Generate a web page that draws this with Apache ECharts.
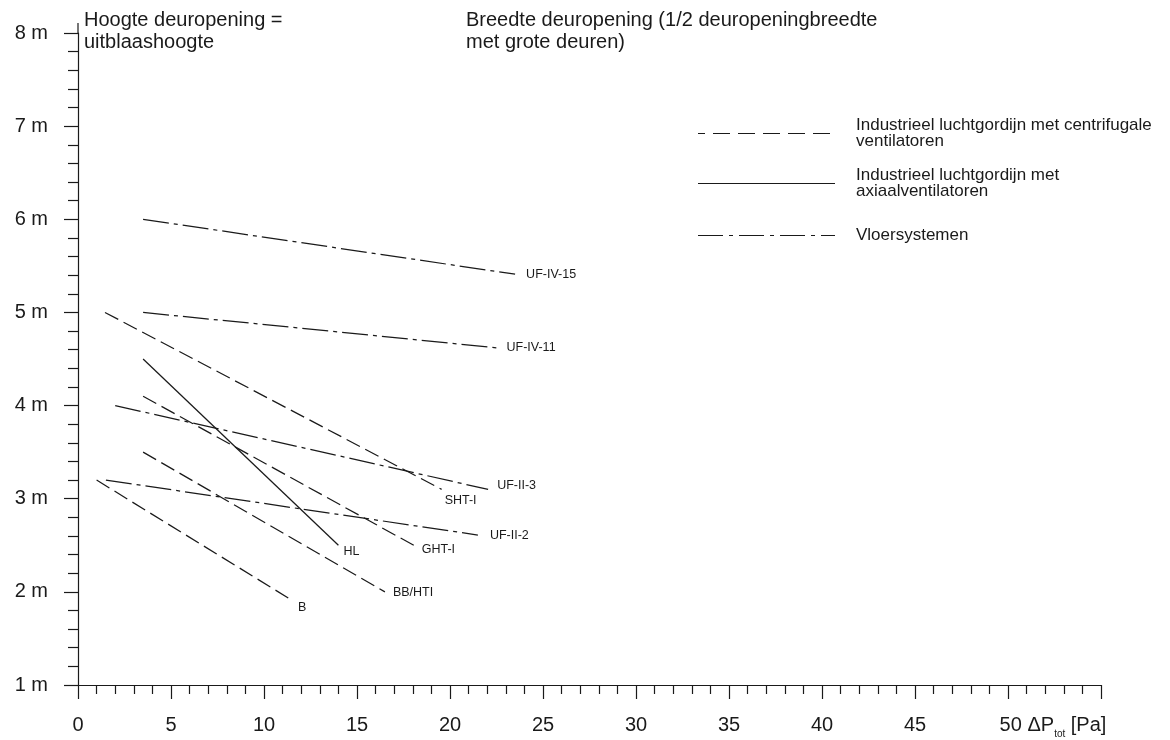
<!DOCTYPE html>
<html>
<head>
<meta charset="utf-8">
<script src="https://cdn.jsdelivr.net/npm/echarts@6/dist/echarts.min.js"></script>
<style>html,body{margin:0;padding:0;background:#fff}#c{width:1170px;height:740px}</style>
</head>
<body>
<div id="c"></div>
<script>
// ---- data (x = ΔPtot [Pa], y = height [m]) ----
const ufIV15 = [[3.5, 6.0], [23.5, 5.41]];
const ufIV11 = [[3.5, 5.0], [22.5, 4.62]];
const ufII3  = [[2.0, 4.0], [22.05, 3.1]];
const ufII2  = [[1.5, 3.2], [21.5, 2.61]];
const shtI   = [[1.45, 5.0], [19.55, 3.1]];
const hl     = [[3.5, 4.5], [14.0, 2.5]];
const ghtI   = [[3.5, 4.1], [18.05, 2.5]];
const bbHtI  = [[3.5, 3.5], [16.5, 2.0]];
const bLine  = [[1.0, 3.2], [11.5, 1.91]];

const seriesNames = ['UF-IV-15','UF-IV-11','UF-II-3','UF-II-2','SHT-I','HL','GHT-I','BB/HTI','B'];
const seriesData  = [ufIV15, ufIV11, ufII3, ufII2, shtI, hl, ghtI, bbHtI, bLine];
const seriesKind  = ['floor','floor','floor','floor','centri','axial','centri','centri','centri'];

const legendLabels = [
  'Industrieel luchtgordijn met centrifugale\nventilatoren',
  'Industrieel luchtgordijn met\naxiaalventilatoren',
  'Vloersystemen'
];
const titleLeft  = 'Hoogte deuropening =\nuitblaashoogte';
const titleRight = 'Breedte deuropening (1/2 deuropeningbreedte\nmet grote deuren)';
const xMin = 0, xMax = 55, xStep = 5;
const yMin = 1, yMax = 8, yStep = 1;

// ---- styles ----
const INK = '#1a1a1a';
const FONT = '"Liberation Sans", Arial, sans-serif';
const dashOf = { centri: [15, 6], axial: 'solid', floor: [26, 5, 4, 5] };
const labelOffsets = {
  'UF-IV-15': [11, 0], 'UF-IV-11': [10, 0], 'UF-II-3': [9, -4], 'UF-II-2': [12, 1],
  'SHT-I': [3, 11], 'HL': [5, 6], 'GHT-I': [8, 4], 'BB/HTI': [8, 1], 'B': [6, 7]
};

const series = seriesNames.map((n, i) => ({
  name: n,
  type: 'line',
  data: seriesData[i],
  symbol: 'none',
  silent: true,
  animation: false,
  lineStyle: { color: INK, width: 1.25, type: dashOf[seriesKind[i]] },
  endLabel: {
    show: true, formatter: n, distance: 0, offset: labelOffsets[n],
    color: INK, fontSize: 12.5, fontFamily: FONT
  }
}));

const legendY = [133.5, 183.5, 235.5];
const legendDash = [[17, 8], null, [25, 6, 4, 6]];
const graphics = [
  // small overhang of the vertical axis above 8 m
  { type: 'line', silent: true, shape: { x1: 78, y1: 33, x2: 78, y2: 23 },
    style: { stroke: INK, lineWidth: 1.2 } }
];
legendLabels.forEach((t, i) => {
  graphics.push({
    type: 'line', silent: true,
    shape: { x1: 698, y1: legendY[i], x2: 835, y2: legendY[i] },
    style: { stroke: INK, lineWidth: 1.2, lineDash: legendDash[i] || null, lineDashOffset: i === 0 ? 10 : 0 }
  });
  graphics.push({
    type: 'text', silent: true, x: 856, y: legendY[i] - 0.5,
    style: { text: t, fill: INK, font: '17px ' + FONT, lineHeight: 16, verticalAlign: 'middle', align: 'left' }
  });
});

const chart = echarts.init(document.getElementById('c'), null, { renderer: 'canvas' });
chart.setOption({
  backgroundColor: '#fff',
  animation: false,
  title: [
    { text: titleLeft, left: 84, top: 9, padding: 0,
      textStyle: { fontSize: 20, fontWeight: 'normal', color: INK, fontFamily: FONT, lineHeight: 22 } },
    { text: titleRight, left: 466, top: 9, padding: 0,
      textStyle: { fontSize: 20, fontWeight: 'normal', color: INK, fontFamily: FONT, lineHeight: 22 } }
  ],
  grid: { left: 78, right: 69, top: 33, bottom: 55, containLabel: false },
  xAxis: {
    type: 'value', min: xMin, max: xMax, interval: xStep,
    axisLine: { show: true, onZero: false, lineStyle: { color: INK, width: 1.2 } },
    axisTick: { show: true, length: 14, lineStyle: { color: INK, width: 1.2 } },
    minorTick: { show: true, splitNumber: 5, length: 9, lineStyle: { color: INK, width: 1.2 } },
    splitLine: { show: false },
    axisLabel: {
      margin: 26, fontSize: 20, color: INK, fontFamily: FONT, lineHeight: 28,
      showMaxLabel: false,
      formatter: v => v === 50 ? '{sp|}50 ΔP{sub|tot} [Pa]' : String(v),
      rich: {
        sp: { width: 90 },
        sub: { fontSize: 10, lineHeight: 10, verticalAlign: 'bottom', fontFamily: FONT, color: INK }
      }
    }
  },
  yAxis: {
    type: 'value', min: yMin, max: yMax, interval: yStep,
    axisLine: { show: true, onZero: false, lineStyle: { color: INK, width: 1.2 } },
    axisTick: { show: true, length: 14, lineStyle: { color: INK, width: 1.2 } },
    minorTick: { show: true, splitNumber: 5, length: 10, lineStyle: { color: INK, width: 1.2 } },
    splitLine: { show: false },
    axisLabel: { margin: 30, fontSize: 20, color: INK, fontFamily: FONT, formatter: '{value} m' }
  },
  graphic: graphics,
  series: series
});
</script>
</body>
</html>
